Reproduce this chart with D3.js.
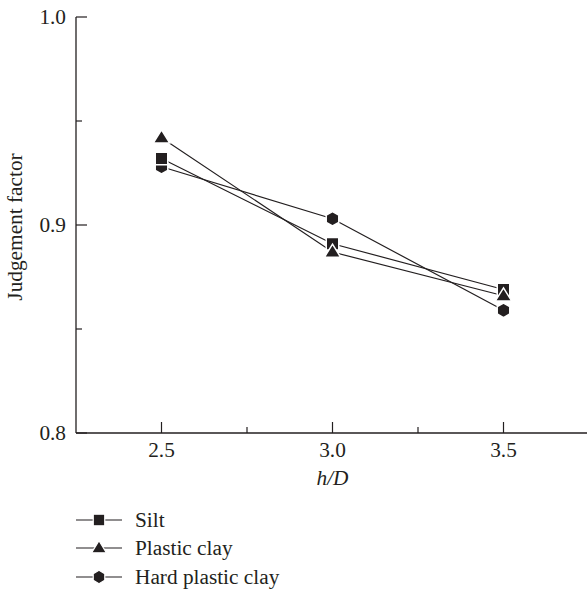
<!DOCTYPE html>
<html>
<head>
<meta charset="utf-8">
<script src="https://cdn.jsdelivr.net/npm/d3@7"></script>
<style>
  html, body { margin: 0; padding: 0; background: #fff; }
  svg { display: block; }
  text { font-family: "Liberation Serif", "Times New Roman", serif; fill: #231f20; }
</style>
</head>
<body>
<svg id="chart" width="587" height="589"></svg>
<script>
// ---- data ----
const hD = [2.5, 3.0, 3.5];
const silt = [0.932, 0.891, 0.869];
const plasticClay = [0.942, 0.887, 0.866];
const hardPlasticClay = [0.928, 0.903, 0.859];
const seriesNames = ["Silt", "Plastic clay", "Hard plastic clay"];
const xTicks = [2.5, 3.0, 3.5];
const yTicks = [0.8, 0.9, 1.0];

const seriesList = [
  { name: seriesNames[0], values: silt, shape: "square" },
  { name: seriesNames[1], values: plasticClay, shape: "triangle" },
  { name: seriesNames[2], values: hardPlasticClay, shape: "hexagon" }
];

const ink = "#231f20";
const fs = 21.3;
const svg = d3.select("#chart");

const x = d3.scaleLinear().domain([2.25, 3.75]).range([76, 589]);
const y = d3.scaleLinear().domain([0.8, 1.0]).range([433, 17]);

// axes
const gx = svg.append("g").attr("transform", `translate(0,${y(0.8)})`);
gx.append("line").attr("x1", x(2.25)).attr("x2", 587).attr("stroke", ink).attr("stroke-width", 1.3);
gx.selectAll(".maj").data(xTicks).join("line")
  .attr("x1", d => x(d)).attr("x2", d => x(d)).attr("y1", 0).attr("y2", -11)
  .attr("stroke", ink).attr("stroke-width", 1.2);
gx.selectAll(".min").data([2.75, 3.25]).join("line").attr("class", "min")
  .attr("x1", d => x(d)).attr("x2", d => x(d)).attr("y1", 0).attr("y2", -6)
  .attr("stroke", ink).attr("stroke-width", 1.2);
gx.selectAll("text").data(xTicks).join("text")
  .attr("x", d => x(d)).attr("y", 24).attr("text-anchor", "middle")
  .attr("font-size", fs).text(d => d.toFixed(1));

const gy = svg.append("g").attr("transform", `translate(${x(2.25)},0)`);
gy.append("line").attr("y1", y(0.8)).attr("y2", y(1.0)).attr("stroke", ink).attr("stroke-width", 1.3);
gy.selectAll(".maj").data(yTicks).join("line")
  .attr("y1", d => y(d)).attr("y2", d => y(d)).attr("x1", 0).attr("x2", 11)
  .attr("stroke", ink).attr("stroke-width", 1.2);
gy.selectAll(".min").data([0.85, 0.95]).join("line").attr("class", "min")
  .attr("y1", d => y(d)).attr("y2", d => y(d)).attr("x1", 0).attr("x2", 6)
  .attr("stroke", ink).attr("stroke-width", 1.2);
gy.selectAll("text").data(yTicks).join("text")
  .attr("x", -10).attr("y", d => y(d)).attr("dy", "0.35em").attr("text-anchor", "end")
  .attr("font-size", fs).text(d => d.toFixed(1));

// axis titles
svg.append("text").attr("x", x(3.0)).attr("y", 485).attr("text-anchor", "middle")
  .attr("font-size", fs).attr("font-style", "italic").text("h/D");
svg.append("text").attr("transform", `translate(22,227) rotate(-90)`)
  .attr("text-anchor", "middle").attr("font-size", fs).text("Judgement factor");

// marker paths
function markerPath(shape, s) {
  if (shape === "square") {
    const h = s * 0.5;
    return `M${-h},${-h}H${h}V${h}H${-h}Z`;
  }
  if (shape === "triangle") {
    const w = s * 0.65, ht = s * 1.05;
    return `M0,${-ht * 0.6}L${w},${ht * 0.4}L${-w},${ht * 0.4}Z`;
  }
  // hexagon, pointy top
  const r = s * 0.58;
  const pts = d3.range(6).map(i => {
    const a = Math.PI / 3 * i - Math.PI / 2;
    return [r * Math.cos(a), r * Math.sin(a)];
  });
  return "M" + pts.map(p => p.join(",")).join("L") + "Z";
}

const line = d3.line().x((d, i) => x(hD[i])).y(d => y(d));

// lines first
seriesList.forEach(s => {
  svg.append("path").attr("d", line(s.values)).attr("fill", "none")
    .attr("stroke", ink).attr("stroke-width", 1.2);
});
// markers (hexagon first, then square, then triangle on top)
[seriesList[2], seriesList[0], seriesList[1]].forEach(s => {
  svg.selectAll(null).data(s.values).join("path")
    .attr("transform", (d, i) => `translate(${x(hD[i])},${y(d)})`)
    .attr("d", markerPath(s.shape, 12.5))
    .attr("fill", ink).attr("stroke", "#fff").attr("stroke-width", 1.5);
});

// legend
const legendY = [520, 548, 577];
seriesList.forEach((s, i) => {
  const g = svg.append("g").attr("transform", `translate(0,${legendY[i]})`);
  g.append("line").attr("x1", 76).attr("x2", 122).attr("stroke", ink).attr("stroke-width", 1.2);
  g.append("path").attr("transform", "translate(99,0)").attr("d", markerPath(s.shape, 11.5))
    .attr("fill", ink).attr("stroke", "#fff").attr("stroke-width", 1.2);
  g.append("text").attr("x", 135).attr("dy", "0.35em").attr("font-size", fs).text(s.name);
});
</script>
</body>
</html>
